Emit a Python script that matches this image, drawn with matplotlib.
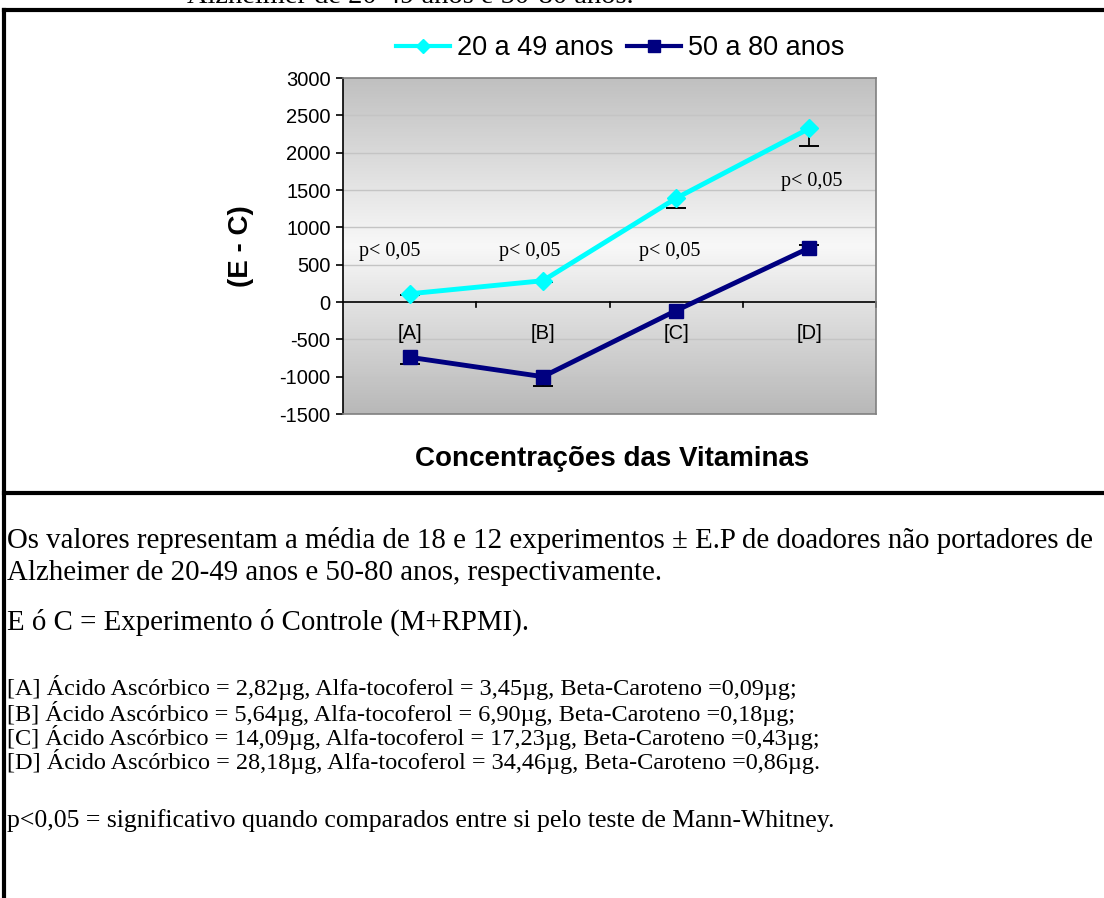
# Vitaminas: E - C por faixa etaria (20-49 x 50-80 anos)
from matplotlib import pyplot as plt
from matplotlib.lines import Line2D
from matplotlib.colors import LinearSegmentedColormap
import numpy as np

# Dados
categorias = ["[A]", "[B]", "[C]", "[D]"]
jovens = [110, 285, 1390, 2325]          # 20 a 49 anos
jovens_ep = [20, 20, 125, 230]           # barra so para baixo
idosos = [-740, -1000, -115, 725]        # 50 a 80 anos
idosos_ep_baixo = [90, 120, 0, 0]
idosos_ep_cima = [0, 0, 0, 40]
p_textos = ["p< 0,05", "p< 0,05", "p< 0,05", "p< 0,05"]
p_x = [0.85, 1.9, 2.95, 4.02]
p_y = [670, 670, 670, 1620]
yticks = [-1500, -1000, -500, 0, 500, 1000, 1500, 2000, 2500, 3000]

notas = [
    "Os valores representam a média de 18 e 12 experimentos \u00b1 E.P de doadores não portadores de",
    "Alzheimer de 20-49 anos e 50-80 anos, respectivamente.",
    "E ó C = Experimento ó Controle (M+RPMI).",
]
doses = [
    "[A] Ácido Ascórbico = 2,82µg, Alfa-tocoferol = 3,45µg, Beta-Caroteno =0,09µg;",
    "[B] Ácido Ascórbico = 5,64µg, Alfa-tocoferol = 6,90µg, Beta-Caroteno =0,18µg;",
    "[C] Ácido Ascórbico = 14,09µg, Alfa-tocoferol = 17,23µg, Beta-Caroteno =0,43µg;",
    "[D] Ácido Ascórbico = 28,18µg, Alfa-tocoferol = 34,46µg, Beta-Caroteno =0,86µg.",
]
rodape = "p<0,05 = significativo quando comparados entre si pelo teste de Mann-Whitney."

W, H = 1104, 898
fig = plt.figure(figsize=(W / 100, H / 100), dpi=100)
sans = "Liberation Sans"
serif = "Liberation Serif"

# Eixos (em pixels da figura)
L, R, T, B = 343, 876, 78, 414
ax = fig.add_axes([L / W, 1 - B / H, (R - L) / W, (B - T) / H])
x = np.arange(1, 5)
ax.set_xlim(0.5, 4.5)
ax.set_ylim(-1500, 3000)

# Fundo em degrade (escuro em cima e embaixo, claro no meio)
cmap = LinearSegmentedColormap.from_list("g", ["#b8b8b8", "#f8f8f8", "#c0c0c0"])
grad = np.linspace(0, 1, 256).reshape(-1, 1)
ax.imshow(grad, extent=[0, 1, 0, 1], transform=ax.transAxes, cmap=cmap,
          aspect="auto", origin="lower", zorder=0)

# Grade
for yv in yticks[1:-1]:
    if yv != 0:
        ax.axhline(yv, color="#c4c4c4", lw=1, zorder=1)
ax.axhline(0, color="black", lw=1.2, zorder=2)
for xt in [1.5, 2.5, 3.5, 4.5]:
    ax.plot([xt, xt], [0, -70], color="black", lw=1.2, zorder=2, clip_on=False)

for s in ax.spines.values():
    s.set_color("#808080")
    s.set_linewidth(1.2)
ax.spines["left"].set_color("black")

ax.set_xticks([])
ax.set_yticks(yticks)
ax.set_yticklabels([str(v) for v in yticks], fontfamily=sans, fontsize=14.5)
ax.tick_params(axis="y", direction="out", length=5, width=1.2, pad=4)

# Barras de erro (traco so na ponta da barra)
jy = np.array(jovens)
iy = np.array(idosos)
j_fim = jy - np.array(jovens_ep)
ax.vlines(x, j_fim, jy, color="black", lw=1.3, zorder=3)
ax.plot(x, j_fim, ls="none", marker="_", ms=14, mew=1.4, color="black", zorder=3)
i_baixo = iy - np.array(idosos_ep_baixo)
i_cima = iy + np.array(idosos_ep_cima)
ax.vlines(x, i_baixo, i_cima, color="black", lw=1.3, zorder=3)
tem_baixo = np.array(idosos_ep_baixo) > 0
tem_cima = np.array(idosos_ep_cima) > 0
ax.plot(x[tem_baixo], i_baixo[tem_baixo], ls="none", marker="_", ms=14, mew=1.4,
        color="black", zorder=3)
ax.plot(x[tem_cima], i_cima[tem_cima], ls="none", marker="_", ms=14, mew=1.4,
        color="black", zorder=3)

# Linhas
ax.plot(x, jovens, color="#00ffff", lw=3.5, marker="D", ms=9, zorder=4,
        label="20 a 49 anos")
ax.plot(x, idosos, color="#000080", lw=3.5, marker="s", ms=10, zorder=4,
        label="50 a 80 anos")

# Rotulos das categorias dentro do grafico
for xi, c in zip(x, categorias):
    ax.text(xi, -420, c, ha="center", va="center", fontfamily=sans, fontsize=14.5)

for px, py, t in zip(p_x, p_y, p_textos):
    ax.text(px, py, t, ha="center", va="center", fontfamily=serif, fontsize=14.5)

ax.set_ylabel("(E - C)", fontfamily=sans, fontsize=20, fontweight="bold", labelpad=18)

fig.text(612 / W, 1 - 459 / H, "Concentrações das Vitaminas", ha="center",
         va="center", fontfamily=sans, fontsize=20, fontweight="bold")

leg = ax.legend(loc="center", bbox_to_anchor=(620 / W, 1 - 48 / H),
                bbox_transform=fig.transFigure, ncol=2, frameon=False,
                prop={"family": sans, "size": 19.5}, handlelength=2.0,
                handletextpad=0.25, columnspacing=0.5, markerscale=0.8)
for h in leg.legend_handles:
    h.set_linewidth(3)

# Moldura da tabela
lw = 3
fig.add_artist(Line2D([4 / W, 1], [1 - 10 / H, 1 - 10 / H], color="black", lw=lw))
fig.add_artist(Line2D([4 / W, 1], [1 - 493 / H, 1 - 493 / H], color="black", lw=lw))
fig.add_artist(Line2D([4 / W, 4 / W], [0, 1 - 10 / H], color="black", lw=lw))

# Titulo cortado no topo (como na imagem original)
fig.text(410 / W, 1 - 3 / H, "Alzheimer de 20-49 anos e 50-80 anos.", ha="center",
         va="baseline", fontfamily=serif, fontsize=20.5)

# Notas
for t, yp in zip(notas, [540, 573, 622]):
    fig.text(7 / W, 1 - yp / H, t, ha="left", va="center", fontfamily=serif, fontsize=20.8)
for t, yp in zip(doses, [688, 713, 737, 762]):
    fig.text(7 / W, 1 - yp / H, t, ha="left", va="center", fontfamily=serif, fontsize=17.5)
fig.text(7 / W, 1 - 821 / H, rodape, ha="left", va="center", fontfamily=serif, fontsize=18.5)

fig.savefig("out.png", dpi=100)
